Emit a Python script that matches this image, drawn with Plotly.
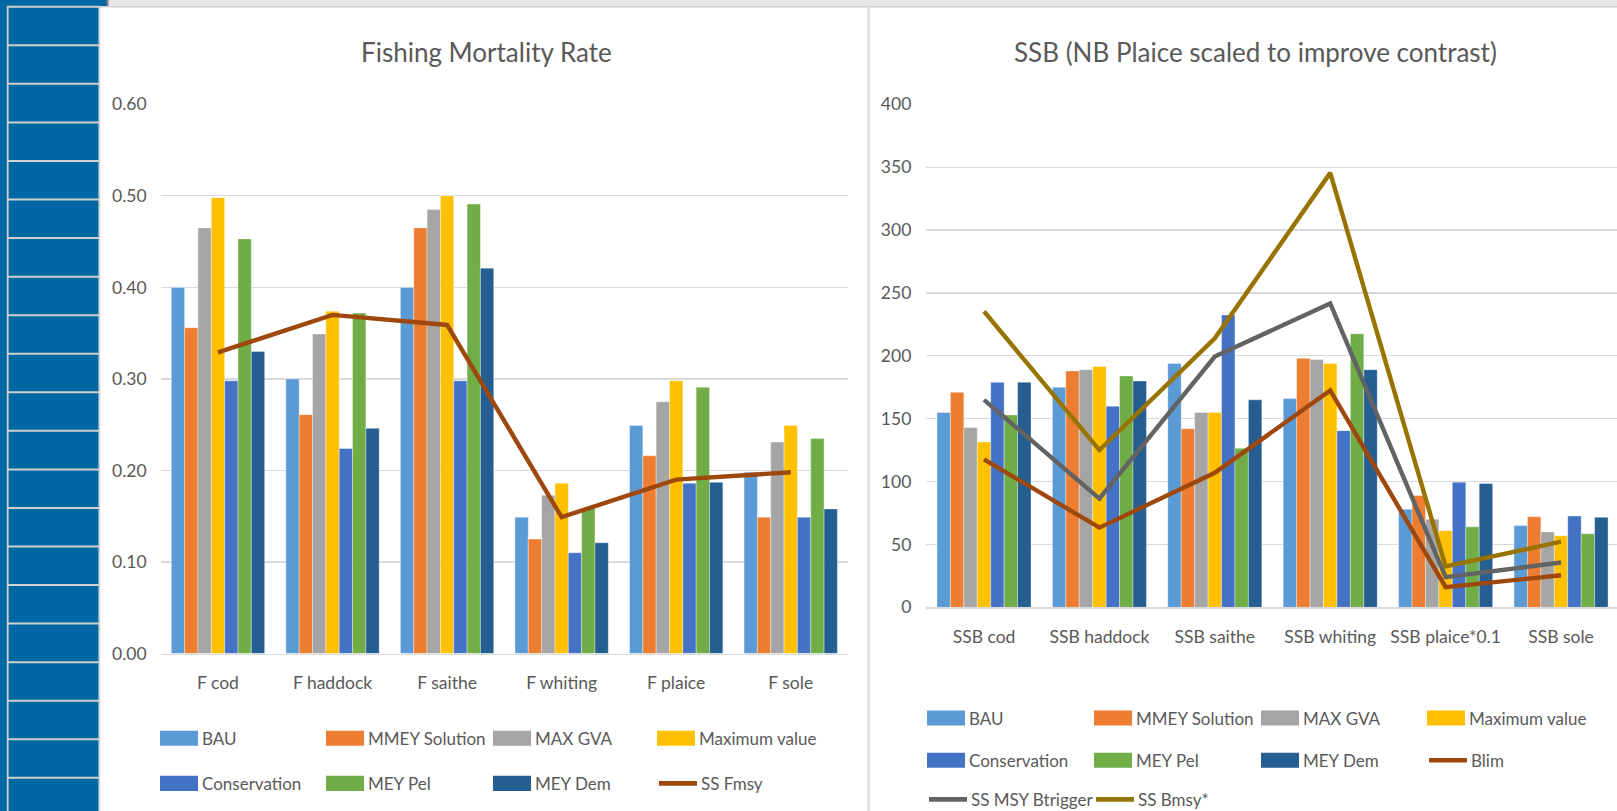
import plotly.graph_objects as go

W = 1617          # page width
H_FIG = 836       # figure height (taller than the window; the photographed window is squeezed vertically)
TOP_SHIFT = 13    # the figure is pinned 13 px above the page top

# ---------------- data ----------------
f_categories = ["F cod", "F haddock", "F saithe", "F whiting", "F plaice", "F sole"]
ssb_categories = ["SSB cod", "SSB haddock", "SSB saithe", "SSB whiting", "SSB plaice*0.1", "SSB sole"]

scenario_names = ["BAU", "MMEY Solution", "MAX GVA", "Maximum value",
                  "Conservation", "MEY Pel", "MEY Dem"]

f_bau          = [0.400, 0.300, 0.400, 0.149, 0.249, 0.198]
f_mmey         = [0.356, 0.261, 0.465, 0.125, 0.216, 0.149]
f_max_gva      = [0.465, 0.349, 0.485, 0.173, 0.275, 0.231]
f_max_value    = [0.498, 0.374, 0.500, 0.186, 0.298, 0.249]
f_conservation = [0.298, 0.224, 0.298, 0.110, 0.186, 0.149]
f_mey_pel      = [0.453, 0.372, 0.491, 0.159, 0.291, 0.235]
f_mey_dem      = [0.330, 0.246, 0.421, 0.121, 0.187, 0.158]
f_ss_fmsy      = [0.329, 0.370, 0.359, 0.149, 0.190, 0.198]

ssb_bau          = [155, 175, 194, 166, 78, 65]
ssb_mmey         = [171, 188, 142, 198, 89, 72]
ssb_max_gva      = [143, 189, 155, 197, 70, 60]
ssb_max_value    = [131.5, 191.5, 155, 194, 61, 57]
ssb_conservation = [179, 160, 232.5, 140.5, 99.5, 72.7]
ssb_mey_pel      = [153, 184, 126.5, 217.5, 64, 58.6]
ssb_mey_dem      = [179, 180, 165, 189, 98.5, 71.6]
ssb_blim         = [117.7, 63.4, 107, 172.5, 16, 25.5]
ssb_btrigger     = [165, 86.5, 199.4, 241.7, 24, 35.7]
ssb_bmsy         = [235.3, 125.1, 214, 345.5, 32.5, 52.2]

f_tick_vals = [0, 0.1, 0.2, 0.3, 0.4, 0.5, 0.6]
f_tick_text = ["0.00", "0.10", "0.20", "0.30", "0.40", "0.50", "0.60"]
ssb_tick_vals = [0, 50, 100, 150, 200, 250, 300, 350, 400]

f_title = "Fishing Mortality Rate"
ssb_title = "SSB (NB Plaice scaled to improve contrast)"

# ---------------- styles ----------------
bar_colors = ["#5B9BD5", "#ED7D31", "#A5A5A5", "#FFC000", "#4472C4", "#70AD47", "#255E91"]
c_fmsy = "#9E480E"
c_blim = "#9E480E"
c_btrig = "#636363"
c_bmsy = "#997300"
TXT = "#595959"
GRID = "#d9d9d9"
FONT = "Lato, sans-serif"

f_series = [f_bau, f_mmey, f_max_gva, f_max_value, f_conservation, f_mey_pel, f_mey_dem]
ssb_series = [ssb_bau, ssb_mmey, ssb_max_gva, ssb_max_value, ssb_conservation, ssb_mey_pel, ssb_mey_dem]

# screen y (in the photographed picture) -> figure pixel y
Y_OFF, Y_SCALE = 12.4, 0.971


def px(x):
    return x / W


def fy(y_screen):
    return TOP_SHIFT + (y_screen - Y_OFF) / Y_SCALE


def py(y_screen):
    return 1 - fy(y_screen) / H_FIG


fig = go.Figure()

for name, vals, col in zip(scenario_names, f_series, bar_colors):
    fig.add_trace(go.Bar(x=f_categories, y=vals, name=name, marker_color=col,
                         marker_line_color="rgba(255,255,255,0.6)", marker_line_width=0.6,
                         xaxis="x", yaxis="y", showlegend=False, hoverinfo="skip"))
fig.add_trace(go.Scatter(x=f_categories, y=f_ss_fmsy, name="SS Fmsy", mode="lines",
                         line=dict(color=c_fmsy, width=4.4), xaxis="x", yaxis="y",
                         showlegend=False, hoverinfo="skip"))

for name, vals, col in zip(scenario_names, ssb_series, bar_colors):
    fig.add_trace(go.Bar(x=ssb_categories, y=vals, name=name, marker_color=col,
                         marker_line_color="rgba(255,255,255,0.6)", marker_line_width=0.6,
                         xaxis="x2", yaxis="y2", showlegend=False, hoverinfo="skip"))
for name, vals, col in [("Blim", ssb_blim, c_blim), ("SS MSY Btrigger", ssb_btrigger, c_btrig),
                        ("SS Bmsy*", ssb_bmsy, c_bmsy)]:
    fig.add_trace(go.Scatter(x=ssb_categories, y=vals, name=name, mode="lines",
                             line=dict(color=col, width=4.4), xaxis="x2", yaxis="y2",
                             showlegend=False, hoverinfo="skip"))

# ---------------- background chrome (spreadsheet) ----------------
shapes = []
BLUE = "#0067A5"
shapes.append(dict(type="rect", xref="paper", yref="paper", x0=px(0), x1=px(100), y0=0, y1=1,
                   fillcolor=BLUE, line_width=0, layer="above"))
shapes.append(dict(type="rect", xref="paper", yref="paper", x0=px(0), x1=px(107), y0=py(8), y1=1,
                   fillcolor=BLUE, line_width=0, layer="above"))
shapes.append(dict(type="rect", xref="paper", yref="paper", x0=px(108), x1=px(1617), y0=py(8), y1=1,
                   fillcolor="#e6e6e6", line_width=0, layer="above"))
shapes.append(dict(type="line", xref="paper", yref="paper", x0=px(107.5), x1=px(107.5), y0=py(8), y1=1,
                   line=dict(color="#7f7f7f", width=2), layer="above"))
shapes.append(dict(type="line", xref="paper", yref="paper", x0=px(100), x1=px(1617), y0=py(8.5), y1=py(8.5),
                   line=dict(color="#d0d0d0", width=1.5), layer="above"))
k = 0
while 8.5 + 38.4 * k < 811:
    yy = 8.5 + 38.4 * k
    shapes.append(dict(type="line", xref="paper", yref="paper", x0=px(7), x1=px(100), y0=py(yy), y1=py(yy),
                       line=dict(color="#d0d0d0", width=2), layer="above"))
    k += 1
shapes.append(dict(type="line", xref="paper", yref="paper", x0=px(7.7), x1=px(7.7), y0=0, y1=py(8),
                   line=dict(color="#d0d0d0", width=1.8), layer="above"))
shapes.append(dict(type="line", xref="paper", yref="paper", x0=px(99.3), x1=px(99.3), y0=0, y1=py(8),
                   line=dict(color="#d0d0d0", width=1.8), layer="above"))
shapes.append(dict(type="line", xref="paper", yref="paper", x0=px(868.5), x1=px(868.5), y0=0, y1=py(9),
                   line=dict(color="#dedede", width=2.5), layer="above"))

# ---------------- manual legends ----------------
annotations = []
LEG_SIZE = 17


def legend_entry(x, y, label, color, kind):
    if kind == "bar":
        shapes.append(dict(type="rect", xref="paper", yref="paper", x0=px(x), x1=px(x + 38),
                           y0=py(y + 7.5), y1=py(y - 7.5), fillcolor=color, line_width=0, layer="above"))
        tx = x + 40
    else:
        shapes.append(dict(type="line", xref="paper", yref="paper", x0=px(x + 2), x1=px(x + 40),
                           y0=py(y), y1=py(y), line=dict(color=color, width=4.6), layer="above"))
        tx = x + 42
    annotations.append(dict(xref="paper", yref="paper", x=px(tx), y=py(y), text=label, showarrow=False,
                            xanchor="left", yanchor="middle",
                            font=dict(family=FONT, size=LEG_SIZE, color=TXT)))


left_cols = [160, 326, 493, 657]
left_rows = [737, 782]
left_items = [(n, c, "bar") for n, c in zip(scenario_names, bar_colors)] + [("SS Fmsy", c_fmsy, "line")]
for i, (n, c, kd) in enumerate(left_items):
    legend_entry(left_cols[i % 4], left_rows[i // 4], n, c, kd)

right_cols = [927, 1094, 1261, 1427]
right_rows = [717, 759, 798]
right_items = [(n, c, "bar") for n, c in zip(scenario_names, bar_colors)] + \
              [("Blim", c_blim, "line"), ("SS MSY Btrigger", c_btrig, "line"), ("SS Bmsy*", c_bmsy, "line")]
for i, (n, c, kd) in enumerate(right_items):
    legend_entry(right_cols[i % 4], right_rows[i // 4], n, c, kd)

# titles
annotations.append(dict(xref="paper", yref="paper", x=px(486), y=py(54), text=f_title, showarrow=False,
                        xanchor="center", yanchor="middle", font=dict(family=FONT, size=26, color=TXT)))
annotations.append(dict(xref="paper", yref="paper", x=px(1255), y=py(54), text=ssb_title, showarrow=False,
                        xanchor="center", yanchor="middle", font=dict(family=FONT, size=26, color=TXT)))

tickfont = dict(family=FONT, size=17.5, color=TXT)
catfont = dict(family=FONT, size=17.5, color=TXT)

fig.update_layout(
    autosize=True,
    margin=dict(l=0, r=0, t=0, b=0, pad=0),
    paper_bgcolor="white", plot_bgcolor="white",
    barmode="group", bargap=0.185, bargroupgap=0.0,
    showlegend=False,
    font=dict(family=FONT, color=TXT),
    shapes=shapes, annotations=annotations,
    xaxis=dict(domain=[px(160.7), px(848)], anchor="y", type="category", range=[-0.5, 5.5],
               showgrid=False, showline=True, linecolor=GRID, linewidth=1.5, ticks="", tickangle=0,
               tickfont=catfont, ticklabelstandoff=13, fixedrange=True),
    yaxis=dict(domain=[py(652.7), py(105.7)], anchor="x", range=[0, 0.6],
               tickvals=f_tick_vals, ticktext=f_tick_text, showgrid=True, gridcolor=GRID, gridwidth=1.2,
               zeroline=False, showline=False, ticks="", tickfont=tickfont, ticklabelstandoff=13,
               fixedrange=True),
    xaxis2=dict(domain=[px(926.3), 1.0], anchor="y2", type="category", range=[-0.5, 5.485],
                showgrid=False, showline=True, linecolor=GRID, linewidth=1.5, ticks="", tickangle=0,
                tickfont=catfont, ticklabelstandoff=13, fixedrange=True),
    yaxis2=dict(domain=[py(606.7), py(105.7)], anchor="x2", range=[0, 400],
                tickvals=ssb_tick_vals, showgrid=True, gridcolor=GRID, gridwidth=1.2,
                zeroline=False, showline=False, ticks="", tickfont=tickfont, ticklabelstandoff=14,
                fixedrange=True),
)

# pin the plot div to the page corner so the body margin does not shift it
fig.write_html("out.html", config={"displayModeBar": False, "staticPlot": True, "responsive": False},
               default_width="%dpx" % W,
               default_height="%dpx; position:fixed; top:-%dpx; left:0px; margin:0px" % (H_FIG, TOP_SHIFT))
